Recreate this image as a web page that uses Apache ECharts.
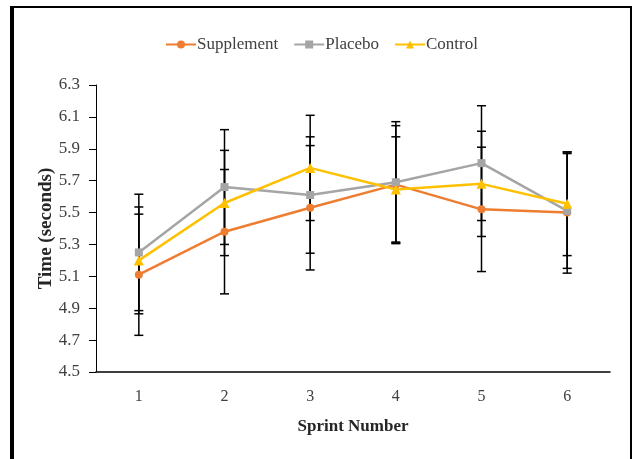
<!DOCTYPE html>
<html>
<head>
<meta charset="utf-8">
<script src="https://cdn.jsdelivr.net/npm/echarts@6/dist/echarts.min.js"></script>
<style>
  html, body { margin: 0; padding: 0; background: #fff; }
  #chart { width: 634px; height: 459px; }
</style>
</head>
<body>
<div id="chart"></div>
<script>
// ---- data ----
const categories = ['1', '2', '3', '4', '5', '6'];
const supplementMean = [5.11, 5.38, 5.53, 5.675, 5.52, 5.50];
const supplementSD   = [0.38, 0.39, 0.39, 0.37, 0.39, 0.38];
const placeboMean    = [5.25, 5.66, 5.61, 5.69, 5.81, 5.51];
const placeboSD      = [0.365, 0.36, 0.365, 0.38, 0.36, 0.36];
const controlMean    = [5.20, 5.56, 5.78, 5.645, 5.68, 5.555];
const controlSD      = [0.335, 0.33, 0.33, 0.33, 0.33, 0.325];
const yMin = 4.5, yMax = 6.3, yStep = 0.2;

// axis baseline offset so ticks start at 4.5 with 0.2 spacing
const BASE = yMin;
const sh = v => +(v - BASE).toFixed(4);

const FONT = 'Liberation Serif';
const chart = echarts.init(document.getElementById('chart'), null, { renderer: 'canvas' });

function errData(mean, sd) {
  return mean.map((m, i) => [i, sh(m - sd[i]), sh(m + sd[i])]);
}
function errRender(params, api) {
  const x = api.value(0);
  const lo = api.coord([x, api.value(1)]);
  const hi = api.coord([x, api.value(2)]);
  const hw = 4.5;
  const st = { stroke: '#000', lineWidth: 1.5 };
  return {
    type: 'group',
    children: [
      { type: 'line', shape: { x1: lo[0], y1: lo[1], x2: hi[0], y2: hi[1] }, style: st },
      { type: 'line', shape: { x1: lo[0] - hw, y1: lo[1], x2: lo[0] + hw, y2: lo[1] }, style: st },
      { type: 'line', shape: { x1: hi[0] - hw, y1: hi[1], x2: hi[0] + hw, y2: hi[1] }, style: st }
    ]
  };
}
function errSeries(mean, sd) {
  return {
    type: 'custom', name: 'err', z: 1, silent: true,
    renderItem: errRender,
    encode: { x: 0, y: [1, 2] },
    data: errData(mean, sd)
  };
}
function lineSeries(name, mean, color, symbol, size) {
  return {
    type: 'line', name: name, z: 3,
    data: mean.map(sh),
    symbol: symbol, symbolSize: size, showSymbol: true,
    lineStyle: { color: color, width: 2.5 },
    itemStyle: { color: color },
    emphasis: { disabled: true }
  };
}

const option = {
  animation: false,
  backgroundColor: '#fff',
  legend: {
    data: ['Supplement', 'Placebo', 'Control'],
    left: 160, top: 31,
    itemWidth: 30, itemHeight: 10, itemGap: 15,
    textStyle: { fontFamily: FONT, fontSize: 17, color: '#404040', padding: [0, 0, 0, -4] }
  },
  grid: { left: 96, right: 24, top: 85, bottom: 87 },
  xAxis: {
    type: 'category', data: categories, boundaryGap: true,
    name: 'Sprint Number', nameLocation: 'middle', nameGap: 46,
    nameTextStyle: { fontFamily: FONT, fontSize: 17, fontWeight: 'bold', color: '#262626' },
    axisLine: { lineStyle: { color: '#000', width: 1.5 } },
    axisTick: { show: false },
    axisLabel: { fontFamily: FONT, fontSize: 16, color: '#404040', margin: 17 }
  },
  yAxis: {
    type: 'value', min: 0, max: sh(yMax), interval: yStep,
    name: 'Time (seconds)', nameLocation: 'middle', nameGap: 40, nameRotate: 90,
    nameMoveOverlap: false,
    nameTextStyle: { fontFamily: FONT, fontSize: 19, fontWeight: 'bold', color: '#262626' },
    axisLine: { show: true, lineStyle: { color: '#000', width: 1 } },
    axisTick: { show: true, inside: false, length: 7, lineStyle: { color: '#000' } },
    splitLine: { show: false },
    axisLabel: {
      fontFamily: FONT, fontSize: 17, color: '#404040', margin: 16,
      formatter: v => (v + BASE).toFixed(1)
    }
  },
  graphic: [
    { type: 'line', shape: { x1: 12, y1: 6, x2: 12, y2: 459 }, style: { stroke: '#000', lineWidth: 4 }, silent: true },
    { type: 'line', shape: { x1: 10, y1: 7, x2: 632, y2: 7 }, style: { stroke: '#000', lineWidth: 2 }, silent: true },
    { type: 'line', shape: { x1: 631, y1: 6, x2: 631, y2: 459 }, style: { stroke: '#000', lineWidth: 2 }, silent: true }
  ],
  series: [
    errSeries(supplementMean, supplementSD),
    errSeries(placeboMean, placeboSD),
    errSeries(controlMean, controlSD),
    lineSeries('Supplement', supplementMean, '#ED7D31', 'circle', 8),
    lineSeries('Placebo', placeboMean, '#A5A5A5', 'rect', 8),
    lineSeries('Control', controlMean, '#FFC000', 'triangle', 10)
  ]
};
chart.setOption(option);
</script>
</body>
</html>
